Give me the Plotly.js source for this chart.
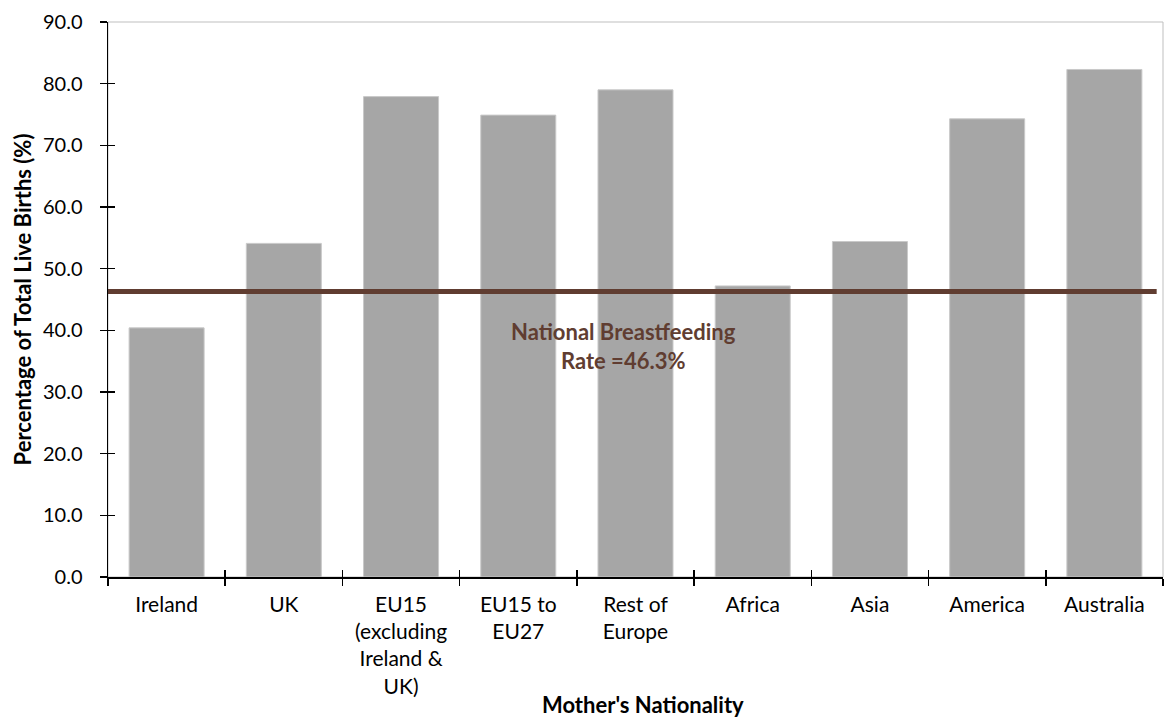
<!DOCTYPE html>
<html>
<head>
<meta charset="utf-8">
<script src="https://cdn.plot.ly/plotly-3.0.1.min.js"></script>
<style>
  html, body { margin: 0; padding: 0; background: #ffffff; }
  #chart { width: 1166px; height: 720px; }
</style>
</head>
<body>
<div id="chart"></div>
<script>
// Breastfeeding rate by mother's nationality (% of total live births)
const categories = [
  "Ireland",
  "UK",
  "EU15<br>(excluding<br>Ireland &<br>UK)",
  "EU15 to<br>EU27",
  "Rest of<br>Europe",
  "Africa",
  "Asia",
  "America",
  "Australia"
];
const rates = [40.4, 54.1, 77.9, 74.9, 79.0, 47.2, 54.4, 74.3, 82.3];
const nationalRate = 46.3;
const yTickValues = [0, 10, 20, 30, 40, 50, 60, 70, 80, 90];

const FONT = "Lato, 'Open Sans', sans-serif";
const BROWN = "#603D31";

const bars = {
  type: "bar",
  x: categories,
  y: rates,
  marker: { color: "#A6A6A6", line: { color: "#C9C9C9", width: 1 } },
  hoverinfo: "x+y",
  showlegend: false
};

// transparent copy on the overlay axes so the inner half of each tick is drawn
const ghost = {
  type: "bar",
  x: categories,
  y: rates,
  xaxis: "x2",
  yaxis: "y2",
  marker: { color: "rgba(0,0,0,0)" },
  hoverinfo: "skip",
  showlegend: false
};

const layout = {
  width: 1166,
  height: 720,
  margin: { l: 108, r: 3, t: 22, b: 143 },
  paper_bgcolor: "#ffffff",
  plot_bgcolor: "#ffffff",
  font: { family: FONT, size: 18, color: "#000000" },
  bargap: 0.36,
  xaxis: {
    type: "category",
    showline: true,
    linecolor: "#000000",
    linewidth: 1.5,
    ticks: "outside",
    ticklen: 7,
    tickcolor: "#000000",
    tickwidth: 1.5,
    tickson: "boundaries",
    showgrid: false,
    zeroline: false,
    ticklabelstandoff: 8,
    tickfont: { family: FONT, size: 21, color: "#000000" },
    fixedrange: true
  },
  xaxis2: {
    type: "category",
    overlaying: "x",
    matches: "x",
    showline: false,
    ticks: "inside",
    ticklen: 7,
    tickcolor: "#000000",
    tickwidth: 1.5,
    tickson: "boundaries",
    showticklabels: false,
    showgrid: false,
    zeroline: false
  },
  yaxis: {
    range: [0, 90],
    tickvals: yTickValues,
    tickformat: ".1f",
    showline: true,
    linecolor: "#000000",
    linewidth: 1.5,
    ticks: "outside",
    ticklen: 7,
    tickcolor: "#000000",
    tickwidth: 1.5,
    showgrid: false,
    zeroline: false,
    ticklabelstandoff: 13,
    tickfont: { family: FONT, size: 20, color: "#000000" },
    title: {
      text: "<b>Percentage of Total Live Births (%)</b>",
      font: { family: FONT, size: 22, color: "#000000" },
      standoff: 5
    },
    fixedrange: true
  },
  yaxis2: {
    range: [0, 90],
    tickvals: yTickValues,
    overlaying: "y",
    showline: false,
    ticks: "inside",
    ticklen: 7,
    tickcolor: "#000000",
    tickwidth: 1.5,
    showticklabels: false,
    showgrid: false,
    zeroline: false
  },
  shapes: [
    {
      // light frame around the plotting area
      type: "rect", xref: "paper", yref: "paper",
      x0: 0, x1: 1, y0: 0, y1: 1,
      line: { color: "#BFBFBF", width: 1 },
      layer: "below"
    },
    {
      // national average reference line
      type: "line", xref: "paper", yref: "y",
      x0: 0, x1: 0.994, y0: nationalRate, y1: nationalRate,
      line: { color: BROWN, width: 5 },
      layer: "above"
    }
  ],
  annotations: [
    {
      text: "<b>National Breastfeeding<br>Rate =" + nationalRate.toFixed(1) + "%</b>",
      xref: "paper", yref: "y",
      x: 0.489, y: 37.4,
      showarrow: false,
      align: "center",
      font: { family: FONT, size: 22, color: BROWN }
    },
    {
      text: "<b>Mother's Nationality</b>",
      xref: "paper", yref: "paper",
      x: 0.507, y: 0, yshift: -127,
      showarrow: false,
      xanchor: "center",
      yanchor: "middle",
      font: { family: FONT, size: 22, color: "#000000" }
    }
  ]
};

Plotly.newPlot("chart", [bars, ghost], layout, { displayModeBar: false, staticPlot: true });
</script>
</body>
</html>
